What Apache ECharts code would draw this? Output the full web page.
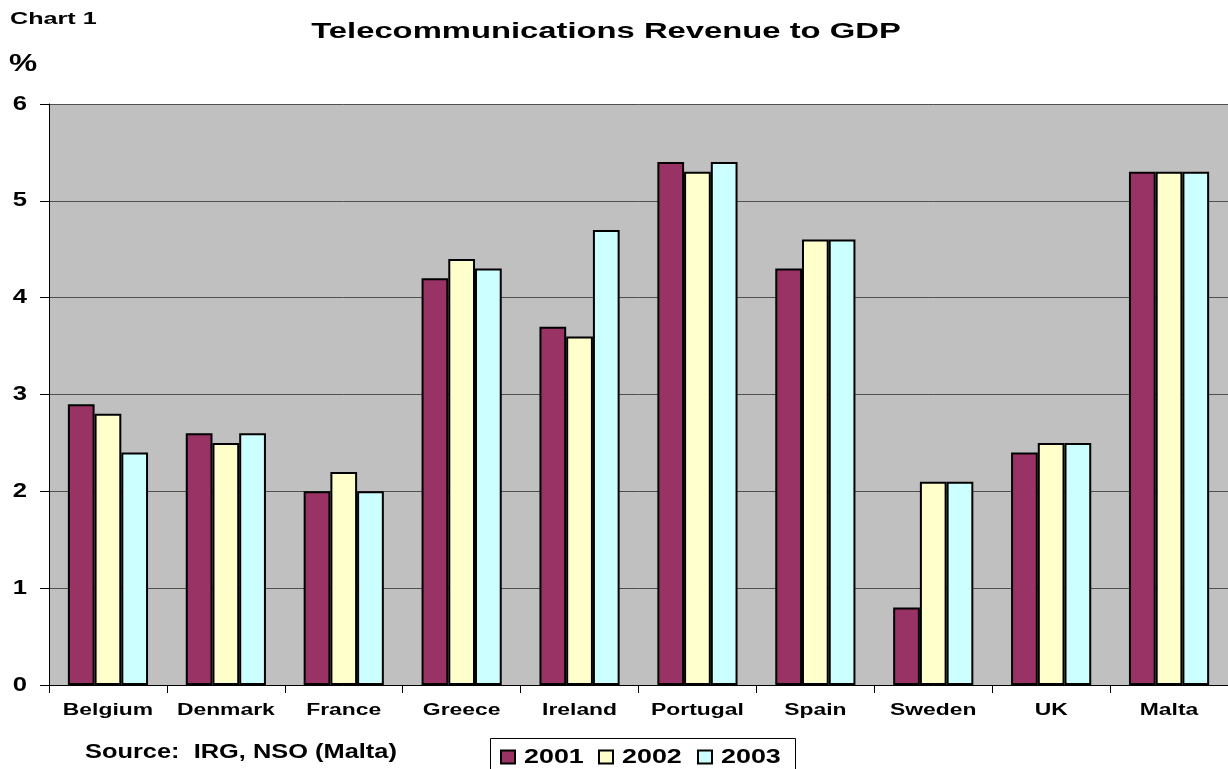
<!DOCTYPE html>
<html>
<head>
<meta charset="utf-8">
<script src="https://cdn.jsdelivr.net/npm/echarts@6/dist/echarts.min.js"></script>
<style>
  html, body { margin: 0; padding: 0; background: #ffffff; }
  #chart { width: 1228px; height: 769px; }
</style>
</head>
<body>
<div id="chart"></div>
<script>
// Telecommunications revenue as a share of GDP, by country and year
const countries = ['Belgium', 'Denmark', 'France', 'Greece', 'Ireland', 'Portugal', 'Spain', 'Sweden', 'UK', 'Malta'];
const years = ['2001', '2002', '2003'];
const values2001 = [2.9, 2.6, 2.0, 4.2, 3.7, 5.4, 4.3, 0.8, 2.4, 5.3];
const values2002 = [2.8, 2.5, 2.2, 4.4, 3.6, 5.3, 4.6, 2.1, 2.5, 5.3];
const values2003 = [2.4, 2.6, 2.0, 4.3, 4.7, 5.4, 4.6, 2.1, 2.5, 5.3];
const yTicks = [0, 1, 2, 3, 4, 5, 6];

const FONT = 'Liberation Sans, Arial, sans-serif';
const colors = ['#993366', '#FFFFCC', '#CCFFFF'];
const seriesData = [values2001, values2002, values2003];

const chart = echarts.init(document.getElementById('chart'), null, { renderer: 'canvas' });

// Wide bold text: drawn as a graphic text with a horizontal stretch
function wideText(text, x, y, size, stretch, align) {
  return {
    type: 'text', x: x, y: y, scaleX: stretch, silent: true, z: 100,
    style: {
      text: text, fontFamily: FONT, fontWeight: 'bold', fontSize: size,
      fill: '#000', align: align || 'left', verticalAlign: 'middle'
    }
  };
}

chart.setOption({
  backgroundColor: '#ffffff',
  animation: false,
  grid: { left: 49, right: -1, top: 104, bottom: 84, show: true, backgroundColor: '#C0C0C0', borderWidth: 0 },
  xAxis: {
    type: 'category',
    data: countries,
    axisLine: { show: true, lineStyle: { color: '#000', width: 1 } },
    axisTick: { show: true, length: 8, lineStyle: { color: '#000' } },
    axisLabel: { show: false }
  },
  yAxis: {
    type: 'value',
    min: yTicks[0], max: yTicks[yTicks.length - 1], interval: 1,
    axisLine: { show: true, lineStyle: { color: '#000', width: 1 } },
    axisTick: { show: true, length: 9, lineStyle: { color: '#000' } },
    axisLabel: { show: false },
    splitLine: { show: true, lineStyle: { color: '#505050', width: 1 } }
  },
  series: years.map((y, i) => ({
    name: y,
    type: 'bar',
    data: seriesData[i],
    barGap: '0%',
    barCategoryGap: '32%',
    itemStyle: { color: colors[i], borderColor: '#000', borderWidth: 2 }
  }))
});

// Axis labels placed through the chart's own scales
const labels = [];
countries.forEach(c => {
  const px = chart.convertToPixel({ xAxisIndex: 0 }, c);
  labels.push(wideText(c, px, 711, 16, 1.43, 'center'));
});
yTicks.forEach(v => {
  const py = chart.convertToPixel({ yAxisIndex: 0 }, v);
  labels.push(wideText(String(v), 27, py, 20, 1.28, 'right'));
});

// Headings and source note
labels.push(wideText('Telecommunications Revenue to GDP', 606, 32, 22, 1.49, 'center'));
labels.push(wideText('Chart 1', 10, 19, 17, 1.48, 'left'));
labels.push(wideText('%', 9, 64, 24, 1.32, 'left'));
labels.push(wideText('Source:  IRG, NSO (Malta)', 85, 752, 20, 1.27, 'left'));

// Legend: bordered box with a swatch and a year per series
labels.push({
  type: 'rect', silent: true, z: 90,
  shape: { x: 490.5, y: 738.5, width: 305, height: 40 },
  style: { fill: '#fff', stroke: '#000', lineWidth: 1 }
});
const legendX = [501, 599, 698];
years.forEach((y, i) => {
  labels.push({
    type: 'rect', silent: true, z: 95,
    shape: { x: legendX[i], y: 750.5, width: 14, height: 13 },
    style: { fill: colors[i], stroke: '#000', lineWidth: 2 }
  });
  labels.push(wideText(y, legendX[i] + 23, 757, 21, 1.28, 'left'));
});

chart.setOption({ graphic: labels });
</script>
</body>
</html>
